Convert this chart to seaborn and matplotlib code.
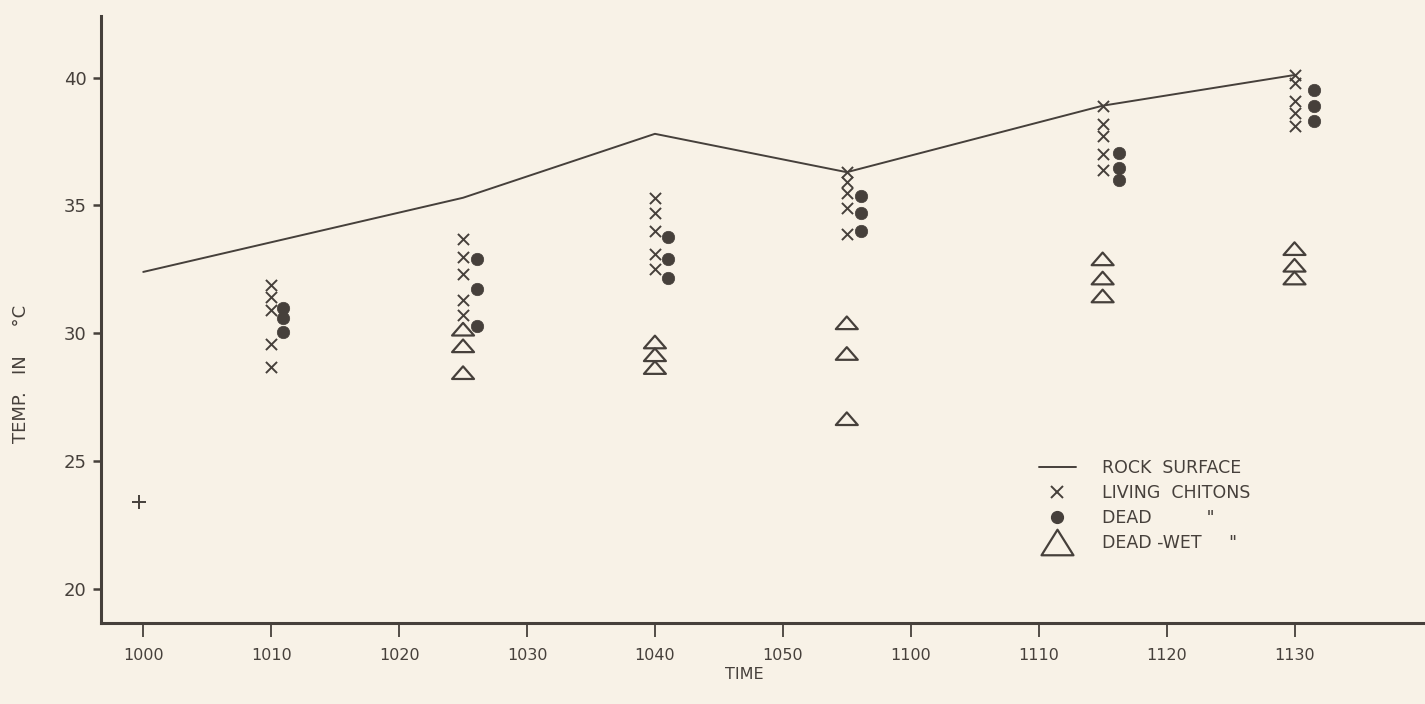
import pandas as pd
import matplotlib.pyplot as plt
import seaborn as sns
from matplotlib.lines import Line2D
from matplotlib.path import Path

# minutes after 10:00 (axis runs 1000 ... 1050, 1100 ... 1130)
tick_minutes = [0, 10, 20, 30, 40, 50, 60, 70, 80, 90]
tick_labels = ["1000", "1010", "1020", "1030", "1040", "1050", "1100", "1110", "1120", "1130"]

rock_time = [0, 25, 40, 55, 75, 90]
rock_temp = [32.4, 35.3, 37.8, 36.3, 38.9, 40.1]

living_time = [10] * 5 + [25] * 5 + [40] * 5 + [55] * 5 + [75] * 5 + [90] * 5
living_temp = [31.9, 31.4, 30.9, 29.6, 28.7,
               33.7, 33.0, 32.3, 31.3, 30.7,
               35.3, 34.7, 34.0, 33.1, 32.5,
               36.3, 35.9, 35.5, 34.9, 33.9,
               38.9, 38.2, 37.7, 37.0, 36.4,
               40.1, 39.8, 39.1, 38.6, 38.1]

dead_time = [10.9] * 3 + [26.1] * 3 + [41.0] * 3 + [56.1] * 3 + [76.3] * 3 + [91.5] * 3
dead_temp = [31.0, 30.6, 30.05,
             32.9, 31.75, 30.3,
             33.75, 32.9, 32.15,
             35.35, 34.7, 34.0,
             37.05, 36.45, 36.0,
             39.5, 38.9, 38.3]

wet_time = [25] * 3 + [40] * 3 + [55] * 3 + [75] * 3 + [90] * 3
wet_temp = [30.15, 29.5, 28.45,
            29.65, 29.15, 28.65,
            30.4, 29.2, 26.65,
            32.9, 32.15, 31.45,
            33.3, 32.65, 32.15]

plus_time = [-0.3]
plus_temp = [23.4]

legend_labels = ["ROCK  SURFACE", "LIVING  CHITONS", 'DEAD          "', 'DEAD -WET     "']

ink = "#46403b"
paper = "#f8f2e7"

sns.set_style("ticks")
plt.rcParams["font.family"] = ["DejaVu Sans"]

fig = plt.figure(figsize=(14.25, 7.04), dpi=100, facecolor=paper)
ax = fig.add_axes([0.0709, 0.115, 0.9291, 0.862])
ax.set_facecolor(paper)

rock = pd.DataFrame({"time": rock_time, "temp": rock_temp})
sns.lineplot(data=rock, x="time", y="temp", ax=ax, color=ink, lw=1.4)

sns.scatterplot(x=living_time, y=living_temp, ax=ax, marker="x", s=64,
                color=ink, linewidth=1.4)
sns.scatterplot(x=dead_time, y=dead_temp, ax=ax, marker="o", s=80,
                color=ink, edgecolor=ink, linewidth=0.5)

tri = Path([(-1, -0.55), (1, -0.55), (0, 0.6), (-1, -0.55)],
           [Path.MOVETO, Path.LINETO, Path.LINETO, Path.CLOSEPOLY])
sns.scatterplot(x=wet_time, y=wet_temp, ax=ax, marker=tri, s=250,
                facecolor="none", edgecolor=ink, linewidth=1.6)
sns.scatterplot(x=plus_time, y=plus_temp, ax=ax, marker="+", s=110,
                color=ink, linewidth=1.4)

ax.set_xlim(-3.3, 100.2)
ax.set_ylim(18.67, 42.4)
ax.set_xticks(tick_minutes)
ax.set_xticklabels(tick_labels, fontsize=11.5, color=ink)
ax.set_yticks([20, 25, 30, 35, 40])
ax.set_yticklabels(["20", "25", "30", "35", "40"], fontsize=13, color=ink)

sns.despine(ax=ax)
for side in ["left", "bottom"]:
    ax.spines[side].set_linewidth(2.2)
    ax.spines[side].set_color(ink)
ax.tick_params(axis="x", length=10, width=1.3, pad=8, color=ink)
ax.tick_params(axis="y", length=6, width=1.8, pad=4.5, color=ink)

ax.set_xlabel("TIME", fontsize=11.5, color=ink)
ax.xaxis.set_label_coords(0.486, -0.072)
ax.set_ylabel("TEMP.   IN     °C", fontsize=13, color=ink)
ax.yaxis.set_label_coords(-0.054, 0.41)

tri_leg = Path([(-1, -0.8), (1, -0.8), (0, 0.8), (-1, -0.8)],
               [Path.MOVETO, Path.LINETO, Path.LINETO, Path.CLOSEPOLY])
handles = [
    Line2D([], [], color=ink, lw=1.4),
    Line2D([], [], ls="none", marker="x", ms=9, mew=1.4, color=ink),
    Line2D([], [], ls="none", marker="o", ms=8.5, color=ink),
    Line2D([], [], ls="none", marker=tri_leg, ms=23, mfc="none", mec=ink, mew=1.6),
]
leg = ax.legend(handles, legend_labels, loc="upper left",
                bbox_to_anchor=(0.702, 0.285), frameon=False, fontsize=12.5,
                borderpad=0, handlelength=2.1, handletextpad=1.5,
                labelspacing=0.4)
for t in leg.get_texts():
    t.set_color(ink)

fig.savefig("out.png", dpi=100, facecolor=paper)
